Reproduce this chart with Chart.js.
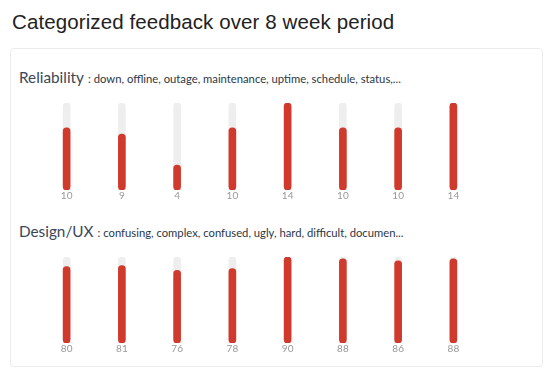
<!DOCTYPE html>
<html lang="en">
<head>
<meta charset="UTF-8">
<title>Categorized feedback over 8 week period</title>
<script src="https://cdn.jsdelivr.net/npm/chart.js"></script>
<style>
    body {
        margin: 0;
        background: #fff;
        width: 550px;
        height: 377px;
        position: relative;
        overflow: hidden;
    }
    h2 {
        position: absolute;
        left: 12px;
        top: 10px;
        margin: 0;
        font-family: "Liberation Sans", Arial, sans-serif;
        font-weight: normal;
        font-size: 20.5px;
        letter-spacing: 0.1px;
        color: #222;
    }
    .card {
        position: absolute;
        left: 10px;
        top: 48px;
        width: 531px;
        height: 317px;
        border: 1px solid #ececec;
        border-radius: 4px;
    }
    .head {
        position: absolute;
        left: 19px;
        font-family: Lato, sans-serif;
        color: #2a3747;
        white-space: nowrap;
    }
    .head b {
        font-weight: normal;
        font-size: 15.3px;
        color: #3a4758;
    }
    .head span {
        font-size: 11.25px;
    }
    .wrap {
        position: absolute;
        left: 39px;
        width: 442px;
    }
</style>
</head>
<body>
<h2>Categorized feedback over 8 week period</h2>
<div class="card"></div>

<div class="head" style="top:67px"><b>Reliability</b> <span>: down, offline, outage, maintenance, uptime, schedule, status,...</span></div>
<div class="wrap" style="top:100px;height:102px"><canvas id="reliabilityChart"></canvas></div>

<div class="head" style="top:221px"><b>Design/UX</b> <span>: confusing, complex, confused, ugly, hard, difficult, documen...</span></div>
<div class="wrap" style="top:254px;height:101px"><canvas id="designChart"></canvas></div>

<script>
    // weekly counts, 8 weeks
    const weeks = ['W1', 'W2', 'W3', 'W4', 'W5', 'W6', 'W7', 'W8'];
    const reliabilityCounts = [10, 9, 4, 10, 14, 10, 10, 14];
    const designCounts = [80, 81, 76, 78, 90, 88, 86, 88];

    const barRed = '#cf3a2c';
    const trackGray = '#eeeeee';

    function makeBars(id, values) {
        const top = Math.max(...values);
        return new Chart(document.getElementById(id), {
            type: 'bar',
            data: {
                labels: weeks,
                datasets: [
                    {
                        data: values,
                        backgroundColor: barRed,
                        barThickness: 7,
                        borderRadius: 4,
                        borderSkipped: false,
                        grouped: false,
                        order: 1
                    },
                    {
                        // gray track behind each bar
                        data: values.map(() => top),
                        backgroundColor: trackGray,
                        barThickness: 7,
                        borderRadius: 4,
                        borderSkipped: false,
                        grouped: false,
                        order: 2
                    }
                ]
            },
            options: {
                responsive: true,
                maintainAspectRatio: false,
                animation: false,
                layout: { padding: { top: 3 } },
                plugins: {
                    legend: { display: false },
                    tooltip: { enabled: false }
                },
                scales: {
                    y: { display: false, min: 0, max: top },
                    x: {
                        grid: { display: false, drawTicks: false },
                        border: { display: false },
                        ticks: {
                            padding: 0,
                            color: '#999999',
                            font: { family: 'Lato', size: 10 },
                            callback: (v, i) => String(values[i])
                        }
                    }
                }
            }
        });
    }

    makeBars('reliabilityChart', reliabilityCounts);
    makeBars('designChart', designCounts);
</script>
</body>
</html>
